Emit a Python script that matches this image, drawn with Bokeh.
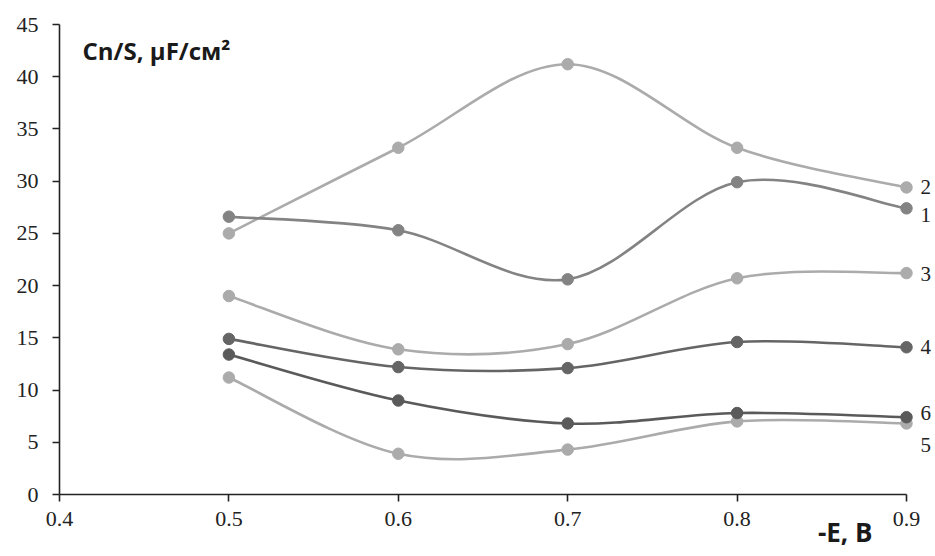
from bokeh.plotting import figure
from bokeh.models import Range1d, FixedTicker, ColumnDataSource, LinearAxis
from bokeh.core.properties import value
from bokeh.embed import file_html
from bokeh.resources import INLINE

# ---- data ----
E = [0.5, 0.6, 0.7, 0.8, 0.9]
s1 = [26.6, 25.3, 20.6, 29.9, 27.4]
s2 = [25.0, 33.2, 41.2, 33.2, 29.4]
s3 = [19.0, 13.9, 14.4, 20.7, 21.2]
s4 = [14.9, 12.2, 12.1, 14.6, 14.1]
s5 = [11.2, 3.9, 4.3, 7.0, 6.8]
s6 = [13.4, 9.0, 6.8, 7.8, 7.4]
series_names = ["1", "2", "3", "4", "5", "6"]
x_ticks = [0.4, 0.5, 0.6, 0.7, 0.8, 0.9]
y_ticks = [0, 5, 10, 15, 20, 25, 30, 35, 40, 45]

# ---- styles / label positions ----
colors = {"1": "#838383", "2": "#ababab", "3": "#ababab",
          "4": "#656565", "5": "#ababab", "6": "#5a5a5a"}
label_y = {"1": 26.8, "2": 29.4, "3": 21.1, "4": 14.1, "5": 4.7, "6": 7.8}

data = {"1": s1, "2": s2, "3": s3, "4": s4, "5": s5, "6": s6}

p = figure(width=935, height=556, output_backend="svg", toolbar_location=None,
           x_range=Range1d(0.36517, 0.91712), y_range=Range1d(-5.936, 47.298),
           x_axis_type=None, y_axis_type=None,
           min_border_left=0, min_border_right=0, min_border_top=0,
           min_border_bottom=0)
p.outline_line_color = None
p.xgrid.visible = False
p.ygrid.visible = False
p.background_fill_color = "white"
p.border_fill_color = "white"

xax = LinearAxis(fixed_location=0)
yax = LinearAxis(fixed_location=0.4)
p.add_layout(xax, "below")
p.add_layout(yax, "left")


def smooth_segments(xs, ys):
    # Bezier control points (Catmull-Rom style smoothing as in spreadsheet charts)
    n = len(xs)
    out = dict(x0=[], y0=[], x1=[], y1=[], cx0=[], cy0=[], cx1=[], cy1=[])
    for i in range(n - 1):
        im = max(i - 1, 0)
        ip = min(i + 2, n - 1)
        out["x0"].append(xs[i]); out["y0"].append(ys[i])
        out["x1"].append(xs[i + 1]); out["y1"].append(ys[i + 1])
        out["cx0"].append(xs[i] + (xs[i + 1] - xs[im]) / 6.0)
        out["cy0"].append(ys[i] + (ys[i + 1] - ys[im]) / 6.0)
        out["cx1"].append(xs[i + 1] - (xs[ip] - xs[i]) / 6.0)
        out["cy1"].append(ys[i + 1] - (ys[ip] - ys[i]) / 6.0)
    return out


draw_order = ["2", "3", "5", "1", "4", "6"]
for name in draw_order:
    ys = data[name]
    src = ColumnDataSource(smooth_segments(E, ys))
    p.bezier(x0="x0", y0="y0", x1="x1", y1="y1", cx0="cx0", cy0="cy0",
             cx1="cx1", cy1="cy1", source=src, line_color=colors[name],
             line_width=2.6)
    p.scatter(E, ys, size=11.5, fill_color=colors[name], line_color=colors[name])

# series labels
for name in series_names:
    p.text(x=[0.9083], y=[label_y[name]], text=[name],
           text_font=value("Liberation Serif"), text_font_size="21px",
           text_color="#222222", text_baseline="middle", text_align="left")

# y title inside
p.text(x=[0.4136], y=[42.5], text=["Cn/S, µF/см²"], text_font=value("Open Sans"),
       text_font_style="bold", text_font_size="24px", text_color="#1a1a1a",
       text_baseline="alphabetic", text_align="left")

# x title at bottom right
p.text(x=[0.8799], y=[-3.6], text=["-E, B"], text_font=value("Open Sans"),
       text_font_style="bold", text_font_size="26px", text_color="#1a1a1a",
       text_baseline="middle", text_align="right")

for ax in (xax, yax):
    ax.axis_line_color = "#222222"
    ax.axis_line_width = 1.6
    ax.major_tick_line_color = "#222222"
    ax.major_tick_line_width = 1.6
    ax.major_tick_in = 0
    ax.major_tick_out = 7
    ax.minor_tick_line_color = None
    ax.major_label_text_font = "Liberation Serif"
    ax.major_label_text_font_size = "22px"
    ax.major_label_text_color = "#222222"

xax.ticker = FixedTicker(ticks=x_ticks)
xax.bounds = (0.4, 0.9)
xax.major_label_standoff = 10
yax.ticker = FixedTicker(ticks=y_ticks)
yax.bounds = (0, 45)
yax.major_label_standoff = 14

open("out.html", "w").write(file_html(p, INLINE))
